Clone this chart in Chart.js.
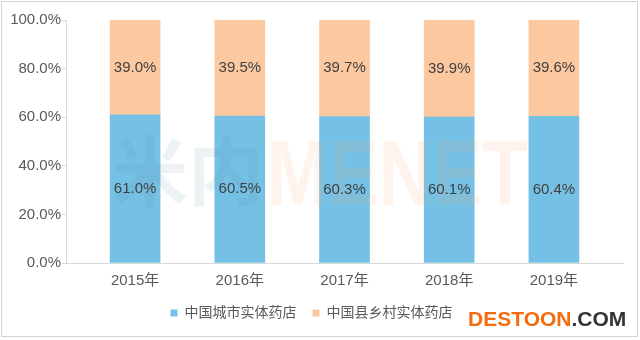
<!DOCTYPE html>
<html>
<head>
    <meta charset="utf-8">
    <title>实体药店分布</title>
    <script src="https://cdn.jsdelivr.net/npm/chart.js"></script>
    <style>
        body { margin: 0; background: #fff; }
    </style>
</head>
<body>
    <canvas id="storeChart" width="640" height="340"></canvas>
    <script>
        const years = ['2015年', '2016年', '2017年', '2018年', '2019年'];
        const cityShare = [61.0, 60.5, 60.3, 60.1, 60.4];
        const countyShare = [39.0, 39.5, 39.7, 39.9, 39.6];
        const seriesNames = ['中国城市实体药店', '中国县乡村实体药店'];

        const textFont = '"Liberation Sans", "Noto Sans CJK SC", sans-serif';

        // bar values written in the middle of each segment, plus the watermarks
        const overlay = {
            id: 'overlay',
            afterDatasetsDraw(chart) {
                const ctx = chart.ctx;
                ctx.save();
                // faint site mark across the plot
                ctx.textBaseline = 'middle';
                ctx.font = 'bold 76px "Noto Sans CJK SC"';
                ctx.fillStyle = 'rgba(90, 135, 160, 0.11)';
                ctx.fillText('米内', 112, 171);
                ctx.save();
                ctx.translate(267, 205);
                ctx.scale(0.81, 1);
                ctx.textBaseline = 'alphabetic';
                ctx.font = 'bold 92px "Liberation Sans"';
                ctx.fillStyle = 'rgba(245, 165, 110, 0.12)';
                ctx.fillText('MENET', 0, 0);
                ctx.restore();

                ctx.font = '15px ' + textFont;
                ctx.fillStyle = '#404040';
                ctx.textAlign = 'center';
                ctx.textBaseline = 'middle';
                chart.data.datasets.forEach((ds, i) => {
                    chart.getDatasetMeta(i).data.forEach((bar, j) => {
                        ctx.fillText(ds.data[j].y.toFixed(1) + '%', bar.x, (bar.y + bar.base) / 2);
                    });
                });
                ctx.restore();
            },
            afterDraw(chart) {
                const ctx = chart.ctx;
                ctx.save();
                ctx.strokeStyle = '#d4d4d4';
                ctx.lineWidth = 1;
                ctx.strokeRect(1.5, 1.5, 636, 335);

                ctx.font = 'bold 21px "Liberation Sans"';
                ctx.textBaseline = 'alphabetic';
                ctx.fillStyle = '#f26c10';
                ctx.fillText('DESTOON', 468, 326);
                const w = ctx.measureText('DESTOON').width;
                ctx.fillStyle = '#333333';
                ctx.fillText('.COM', 468 + w, 326);
                ctx.restore();
            }
        };

        new Chart(document.getElementById('storeChart'), {
            type: 'bar',
            data: {
                datasets: [
                    {
                        label: seriesNames[0],
                        data: cityShare.map((v, i) => ({ x: i, y: v })),
                        backgroundColor: '#75c1e5',
                        barThickness: 50
                    },
                    {
                        label: seriesNames[1],
                        data: countyShare.map((v, i) => ({ x: i, y: v })),
                        backgroundColor: '#fbc8a0',
                        barThickness: 50
                    }
                ]
            },
            options: {
                responsive: false,
                animation: false,
                layout: { padding: { top: 20, right: 17, bottom: 10, left: 0 } },
                plugins: {
                    tooltip: { enabled: false },
                    legend: {
                        position: 'bottom',
                        labels: {
                            boxWidth: 7,
                            boxHeight: 7,
                            padding: 16,
                            color: '#595959',
                            font: { size: 14, family: textFont }
                        }
                    }
                },
                scales: {
                    x: {
                        type: 'linear',
                        stacked: true,
                        offset: false,
                        min: -0.66,
                        max: 4.66,
                        grid: { display: false, drawTicks: false },
                        border: { display: true, color: '#d9d9d9' },
                        ticks: {
                            stepSize: 1,
                            includeBounds: false,
                            autoSkip: false,
                            maxRotation: 0,
                            padding: 9,
                            color: '#595959',
                            font: { size: 15, family: textFont },
                            callback: v => years[v] || ''
                        },
                        afterFit: scale => { scale.height = 27; }
                    },
                    y: {
                        stacked: true,
                        min: 0,
                        max: 100,
                        grid: {
                            drawOnChartArea: false,
                            drawTicks: true,
                            tickLength: 4,
                            color: '#d9d9d9'
                        },
                        border: { display: true, color: '#d9d9d9' },
                        ticks: {
                            stepSize: 20,
                            padding: 1,
                            color: '#595959',
                            font: { size: 15, family: textFont },
                            callback: v => v.toFixed(1) + '%'
                        },
                        afterFit: scale => { scale.width = 66; }
                    }
                }
            },
            plugins: [overlay]
        });
    </script>
</body>
</html>
